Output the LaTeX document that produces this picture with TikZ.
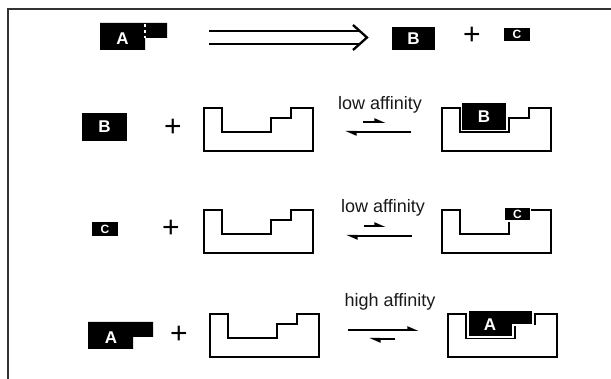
\documentclass[tikz,border=0pt]{standalone}
\usepackage{fontspec}
\setmainfont{Liberation Sans}
\usetikzlibrary{arrows.meta}
\newcommand\myrecep[1]{\draw[rec, shift={#1}] (0,0) -- (18,0) -- (18,24) -- (67,24) -- (67,10) -- (87,10) -- (87,0) -- (109,0) -- (109,43) -- (0,43) -- cycle;}
\begin{document}
\begin{tikzpicture}[x=1pt,y=-1pt,
  rec/.style={draw=black, line width=2.5pt, line join=miter},
  blk/.style={fill=black, inner sep=0pt, text=white, font=\bfseries\fontsize{17}{17}\selectfont},
  blkin/.style={blk, draw=white, line width=1.2pt},
  lbl/.style={font=\bfseries\fontsize{17}{17}\selectfont, text=white, inner sep=0pt},
  cfont/.style={font=\bfseries\fontsize{12}{12}\selectfont},
  aff/.style={font=\fontsize{18}{18}\selectfont, text=black!90, inner sep=0pt, anchor=base},
  plus/.style={font=\fontsize{30}{30}\selectfont, inner sep=0pt},
  harp/.style={line width=2pt, -{Triangle[left,length=9pt,width=7pt]}},
]
\useasboundingbox (0,0) rectangle (611,379);
\fill[white] (0,0) rectangle (611,379);
\draw[line width=2pt, black!80] (8,379) -- (8,9) -- (611,9);

% ---------- row 1 ----------
\fill[black] (100,23) -- (167,23) -- (167,38) -- (145,38) -- (145,50) -- (100,50) -- cycle;
\draw[white, line width=1.5pt, dash pattern=on 3pt off 3pt] (145,24) -- (145,38);
\node[lbl] (a1) at (122.5,39) {A};
\coordinate (r1s) at (209,37.5);
\coordinate (r1e) at (367,37.5);
\draw[line width=2.3pt] ([yshift=-6.5pt]r1s) -- ([yshift=-6.5pt,xshift=-7pt]r1e);
\draw[line width=2.3pt] ([yshift=6.5pt]r1s) -- ([yshift=6.5pt,xshift=-7pt]r1e);
\draw[line width=2.3pt, line join=miter] ([xshift=-14pt,yshift=-12.5pt]r1e) -- (r1e) -- ([xshift=-14pt,yshift=12.5pt]r1e);
\node[blk, minimum width=43pt, minimum height=23pt] (b1) at (413.5,38.5) {B};
\node[plus] (p1) at (472,36) {+};
\node[blk, cfont, minimum width=26pt, minimum height=13pt] (c1) at (517,34.5) {C};

% ---------- row 2 ----------
\node[blk, minimum width=45pt, minimum height=28pt] (b2) at (104.5,127) {B};
\node[plus] (p2) at (173,128) {+};
\myrecep{(204,108)}
\node[aff] (t2) at (380,110) {low affinity};
\coordinate (h2a) at (363,122); \coordinate (h2b) at (386,122);
\coordinate (h2c) at (411,132); \coordinate (h2d) at (345,132);
\draw[harp] (h2a) -- (h2b);
\draw[harp] (h2c) -- (h2d);
\myrecep{(442,108)}
\node[blkin, minimum width=45pt, minimum height=28pt] (b2c) at (484,116.5) {B};

% ---------- row 3 ----------
\node[blk, cfont, minimum width=26pt, minimum height=14pt] (c3) at (105,229) {C};
\node[plus] (p3) at (171,229) {+};
\myrecep{(204,210)}
\node[aff] (t3) at (383,213) {low affinity};
\coordinate (h3a) at (364,226); \coordinate (h3b) at (386,226);
\coordinate (h3c) at (412,236); \coordinate (h3d) at (346,236);
\draw[harp] (h3a) -- (h3b);
\draw[harp] (h3c) -- (h3d);
\myrecep{(442,210)}
\node[blkin, cfont, minimum width=26pt, minimum height=14pt] (c3c) at (517.5,214) {C};

% ---------- row 4 ----------
\fill[black] (88,322) -- (153,322) -- (153,337) -- (133,337) -- (133,349) -- (88,349) -- cycle;
\node[lbl] (a4) at (111,338) {A};
\node[plus] (p4) at (179,335) {+};
\myrecep{(210,314)}
\node[aff] (t4) at (390,307) {high affinity};
\coordinate (h4a) at (348,330); \coordinate (h4b) at (419,330);
\coordinate (h4c) at (395,339); \coordinate (h4d) at (369,339);
\draw[harp] (h4a) -- (h4b);
\draw[harp] (h4c) -- (h4d);
\myrecep{(448,314)}
\fill[black, draw=white, line width=1.2pt] (468,310) -- (533,310) -- (533,325) -- (513,325) -- (513,337) -- (468,337) -- cycle;
\node[lbl] (a4c) at (490,325) {A};
\end{tikzpicture}
\end{document}
